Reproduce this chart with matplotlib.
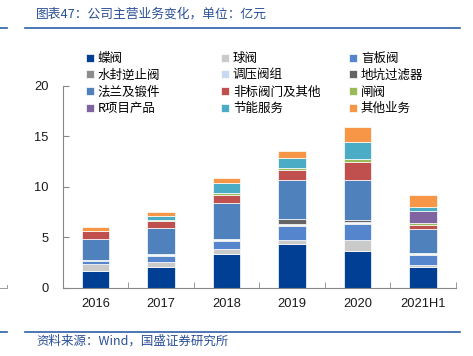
import numpy as np
import matplotlib
matplotlib.use("Agg")
import matplotlib.pyplot as plt
from matplotlib.lines import Line2D

plt.rcParams['font.family'] = ['Noto Sans CJK SC', 'DejaVu Sans']

years = ['2016', '2017', '2018', '2019', '2020', '2021H1']

names = ['蝶阀', '球阀', '盲板阀', '水封逆止阀', '调压阀组', '地坑过滤器',
         '法兰及锻件', '非标阀门及其他', '闸阀', 'R项目产品', '节能服务', '其他业务']

butterfly = [1.71, 2.05, 3.37, 4.36, 3.66, 2.08]
ball = [0.69, 0.49, 0.53, 0.42, 1.09, 0.20]
blind = [0.30, 0.63, 0.78, 1.39, 1.59, 0.99]
check_valve = [0.06, 0.12, 0.08, 0.10, 0.13, 0.14]
regulator = [0.02, 0.03, 0.04, 0.04, 0.06, 0.02]
pit_filter = [0.03, 0.05, 0.05, 0.55, 0.20, 0.04]
flange = [2.03, 2.61, 3.54, 3.83, 3.96, 2.37]
nonstandard = [0.75, 0.65, 0.81, 0.99, 1.81, 0.43]
gate = [0.00, 0.14, 0.17, 0.17, 0.24, 0.17]
r_project = [0.00, 0.00, 0.00, 0.00, 0.00, 1.19]
energy = [0.00, 0.36, 1.05, 0.99, 1.72, 0.39]
other = [0.46, 0.43, 0.50, 0.66, 1.44, 1.22]

series = [butterfly, ball, blind, check_valve, regulator, pit_filter,
          flange, nonstandard, gate, r_project, energy, other]

colors = ['#003F94', '#CACACA', '#5585CC', '#8C8C8C', '#C6D9F1', '#646464',
          '#4F81BD', '#C0504D', '#9BBB59', '#8064A2', '#4BACC6', '#F79646']

W, H = 473, 356
fig = plt.figure(figsize=(W / 100, H / 100), dpi=100)
ax = fig.add_axes([62.7 / W, 1 - 288 / H, (456 - 62.7) / W, (288 - 85.7) / H])

x = np.arange(len(years))
bottom = np.zeros(len(years))
handles = []
for vals, name, col in zip(series, names, colors):
    b = ax.bar(x, vals, 0.42, bottom=bottom, color=col, label=name,
               edgecolor='white', linewidth=0.5)
    handles.append(b)
    bottom += np.array(vals)

ax.set_xlim(-0.5, len(years) - 0.5)
ax.set_ylim(0, 20)
ax.set_yticks([0, 5, 10, 15, 20])
ax.set_xticks(x)
ax.set_xticklabels(years)
ax.set_xticks(np.arange(len(years)) + 0.5, minor=True)

for s in ['top', 'right']:
    ax.spines[s].set_visible(False)
for s in ['left', 'bottom']:
    ax.spines[s].set_color('#888888')
    ax.spines[s].set_linewidth(0.8)

ax.tick_params(axis='y', direction='in', length=4, color='#888888', pad=10)
ax.tick_params(axis='x', which='major', length=0, pad=7)
ax.tick_params(axis='x', which='minor', direction='in', length=4, color='#888888')
for lab in ax.get_xticklabels() + ax.get_yticklabels():
    lab.set_family('Liberation Sans')
    lab.set_fontsize(9.3)
    lab.set_color('#1a1a1a')

# legend: three columns placed like the original
col_x = [86, 221, 349]
for c in range(3):
    fig.legend(handles=handles[c::3], labels=names[c::3], loc='upper left',
               bbox_to_anchor=(col_x[c] / W, 1 - 52 / H), frameon=False,
               fontsize=9, handlelength=0.6, handleheight=0.6,
               handletextpad=0.35, labelspacing=0.3, borderpad=0,
               borderaxespad=0)

# header / footer
blue = '#2F5FA8'
fig.text(36 / W, 1 - 14 / H, '图表47：公司主营业务变化，单位：亿元',
         fontsize=9.2, color='#2A4F96', style='italic', va='center', ha='left')
fig.text(36 / W, 1 - 341 / H, '资料来源：Wind，国盛证券研究所',
         fontsize=9, color='#2A4F96', style='italic', va='center', ha='left')
for y in [28, 331.5]:
    fig.add_artist(Line2D([25 / W, 460 / W], [1 - y / H, 1 - y / H],
                          transform=fig.transFigure, color=blue, lw=1.2))
    fig.add_artist(Line2D([0, 7 / W], [1 - y / H, 1 - y / H],
                          transform=fig.transFigure, color=blue, lw=1.2))
# cut-off piece of the neighbouring chart on the left edge
fig.add_artist(Line2D([0, 7 / W, 7 / W], [1 - 288 / H, 1 - 288 / H, 1 - 285 / H],
                      transform=fig.transFigure, color='#999999', lw=0.7))

fig.savefig('out.png', dpi=100)
